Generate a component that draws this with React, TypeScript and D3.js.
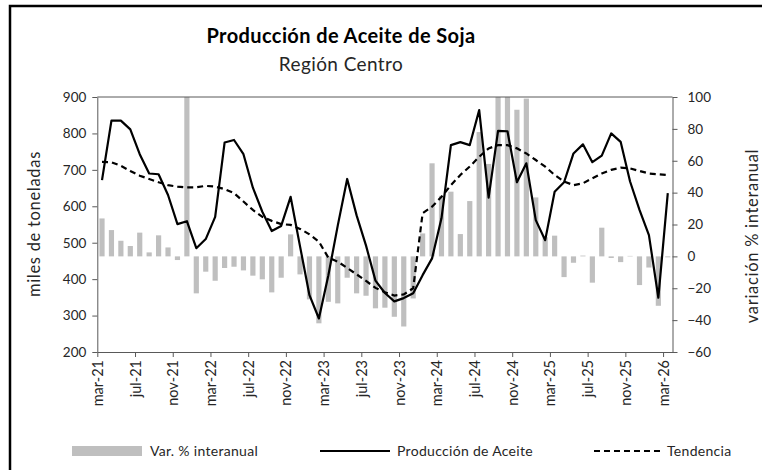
import React, { useEffect, useRef } from 'react';
import * as d3 from 'd3';

// meses mar-21 .. mar-26 (61)
const meses = d3.timeMonths(new Date(2021, 2, 1), new Date(2026, 3, 1));

const etiquetas = [
  'mar-21', 'jul-21', 'nov-21', 'mar-22', 'jul-22', 'nov-22', 'mar-23', 'jul-23',
  'nov-23', 'mar-24', 'jul-24', 'nov-24', 'mar-25', 'jul-25', 'nov-25', 'mar-26',
];

// miles de toneladas
const produccion = [
  672, 835, 835, 811, 743, 690, 688, 631, 551, 559, 485, 510,
  571, 775, 782, 743, 651, 585, 532, 546, 626, 490, 356, 292,
  410, 547, 675, 575, 492, 396, 362, 339, 348, 361, 411, 457,
  567, 768, 776, 768, 864, 624, 807, 806, 666, 718, 562, 507,
  640, 666, 745, 770, 721, 739, 800, 777, 668, 590, 521, 349,
  636,
];

const tendencia = [
  722, 721, 711, 697, 684, 675, 666, 658, 654, 652, 652, 656,
  654, 647, 636, 613, 590, 571, 560, 551, 549, 538, 523, 503,
  459, 448, 431, 413, 395, 376, 364, 355, 358, 375, 581, 599,
  626, 658, 686, 709, 736, 759, 768, 768, 759, 745, 727, 709,
  686, 668, 658, 663, 677, 690, 700, 706, 704, 697, 690, 688,
  686,
];

// variación % interanual
const variacion = [
  23.8, 16.5, 9.8, 6.5, 14.9, 2.5, 13.2, 5.6, -2.3, 110, -23.2, -9.6,
  -15.3, -7.3, -6.5, -8.8, -12.1, -14.4, -22.6, -13.4, 13.8, -11.3, -27, -42,
  -28.5, -29.5, -13.4, -23.2, -24.7, -32.6, -32.2, -37.9, -44, -26.4, 14.4, 58.4,
  38, 40.6, 14, 34.7, 78, 58, 120, 137, 92, 99, 37, 12,
  13, -13, -4, 0.5, -16.5, 18, -1, -3.6, 0.3, -18, -7, -31,
  -0.6,
];

const W = 762;
const H = 470;

function ChartSoja() {
  const ref = useRef<SVGSVGElement>(null);

  useEffect(() => {
    const svg = d3.select(ref.current);
    svg.selectAll('*').remove();

    const left = 97.3, right = 672.5, top = 97, bottom = 352;
    const font = 'Lato, "Open Sans", sans-serif';
    const axisColor = '#595959';
    const txtColor = '#262626';

    const x = d3.scaleBand<number>().domain(d3.range(meses.length)).range([left, right]);
    const xl = d3.scaleLinear().domain([0, meses.length]).range([left, right]);
    const cx = (i: number) => (x(i) as number) + x.bandwidth() / 2;
    const y = d3.scaleLinear().domain([200, 900]).range([bottom, top]);
    const y2 = d3.scaleLinear().domain([-60, 100]).range([bottom, top]);

    // marco
    svg.append('rect')
      .attr('x', 10).attr('y', 6)
      .attr('width', W).attr('height', H)
      .attr('fill', 'white').attr('stroke', 'black').attr('stroke-width', 2.5);

    // titulos
    svg.append('text')
      .attr('x', 341).attr('y', 43)
      .attr('text-anchor', 'middle')
      .style('font-family', font).style('font-size', '20px').style('font-weight', 'bold')
      .style('letter-spacing', '0.4px')
      .attr('fill', 'black')
      .text('Producción de Aceite de Soja');
    svg.append('text')
      .attr('x', 341).attr('y', 71)
      .attr('text-anchor', 'middle')
      .style('font-family', font).style('font-size', '19px')
      .style('letter-spacing', '0.4px')
      .attr('fill', txtColor)
      .text('Región Centro');

    // barras
    svg.append('clipPath').attr('id', 'plotClip')
      .append('rect')
      .attr('x', left).attr('y', top)
      .attr('width', right - left).attr('height', bottom - top);

    const bw = x.bandwidth() * 0.55;
    svg.append('g')
      .attr('clip-path', 'url(#plotClip)')
      .selectAll('rect')
      .data(variacion)
      .enter()
      .append('rect')
      .attr('x', (d, i) => cx(i) - bw / 2)
      .attr('y', d => y2(Math.max(0, d)))
      .attr('width', bw)
      .attr('height', d => Math.abs(y2(d) - y2(0)))
      .attr('fill', '#bfbfbf');

    // ejes
    const axL = svg.append('g')
      .attr('transform', 'translate(' + left + ',0)')
      .call(d3.axisLeft(y).tickValues(d3.range(200, 901, 100)).tickSize(5).tickSizeOuter(0).tickPadding(6));
    const axR = svg.append('g')
      .attr('transform', 'translate(' + right + ',0)')
      .call(d3.axisRight(y2).tickValues(d3.range(-60, 101, 20)).tickSize(5).tickSizeOuter(0).tickPadding(10));
    const axB = svg.append('g')
      .attr('transform', 'translate(0,' + bottom + ')')
      .call(d3.axisBottom(xl)
        .tickValues(d3.range(0, meses.length, 4))
        .tickFormat((d, k) => etiquetas[k])
        .tickSize(5).tickSizeOuter(0));

    [axL, axR, axB].forEach(a => {
      a.select('.domain').attr('stroke', axisColor);
      a.selectAll('.tick line').attr('stroke', axisColor);
      a.selectAll('text')
        .style('font-family', font).style('font-size', '13.5px')
        .attr('fill', txtColor);
    });
    axB.selectAll('text')
      .style('font-size', '14.5px')
      .attr('transform', 'rotate(-90)')
      .attr('text-anchor', 'end')
      .attr('x', -8).attr('y', 0).attr('dy', '0.35em');

    svg.append('line')
      .attr('x1', left).attr('x2', right)
      .attr('y1', top).attr('y2', top)
      .attr('stroke', axisColor);

    // lineas
    const linea = d3.line<number>().x((d, i) => cx(i)).y(d => y(d));
    svg.append('path')
      .datum(tendencia)
      .attr('d', linea)
      .attr('fill', 'none').attr('stroke', 'black')
      .attr('stroke-width', 2.2).attr('stroke-dasharray', '6,4');
    svg.append('path')
      .datum(produccion)
      .attr('d', linea)
      .attr('fill', 'none').attr('stroke', 'black')
      .attr('stroke-width', 2.2).attr('stroke-linejoin', 'round');

    // titulos de ejes
    svg.append('text')
      .attr('transform', 'translate(40,224) rotate(-90)')
      .attr('text-anchor', 'middle')
      .style('font-family', font).style('font-size', '16.5px')
      .style('letter-spacing', '0.7px')
      .attr('fill', txtColor)
      .text('miles de toneladas');
    svg.append('text')
      .attr('transform', 'translate(758,236) rotate(-90)')
      .attr('text-anchor', 'middle')
      .style('font-family', font).style('font-size', '16.5px')
      .style('letter-spacing', '0.7px')
      .attr('fill', txtColor)
      .text('variación % interanual');

    // leyenda
    const ly = 451;
    const leg = svg.append('g').style('font-family', font).style('font-size', '14px')
      .style('letter-spacing', '0.3px');
    leg.append('rect')
      .attr('x', 72).attr('y', ly - 5).attr('width', 70).attr('height', 10)
      .attr('fill', '#bfbfbf');
    leg.append('text').attr('x', 150).attr('y', ly).attr('dy', '0.35em')
      .attr('fill', txtColor).text('Var. % interanual');
    leg.append('line')
      .attr('x1', 320).attr('x2', 390).attr('y1', ly).attr('y2', ly)
      .attr('stroke', 'black').attr('stroke-width', 2.2);
    leg.append('text').attr('x', 397).attr('y', ly).attr('dy', '0.35em')
      .attr('fill', txtColor).text('Producción de Aceite');
    leg.append('line')
      .attr('x1', 594).attr('x2', 660).attr('y1', ly).attr('y2', ly)
      .attr('stroke', 'black').attr('stroke-width', 2.2).attr('stroke-dasharray', '6,4');
    leg.append('text').attr('x', 667).attr('y', ly).attr('dy', '0.35em')
      .attr('fill', txtColor).text('Tendencia');
  }, []);

  return <svg ref={ref} width={W} height={H} style={{ display: 'block' }}></svg>;
}

export default function App() {
  return (
    <div style={{ position: 'absolute', left: 0, top: 0, width: W, height: H, background: 'white' }}>
      <ChartSoja />
    </div>
  );
}
